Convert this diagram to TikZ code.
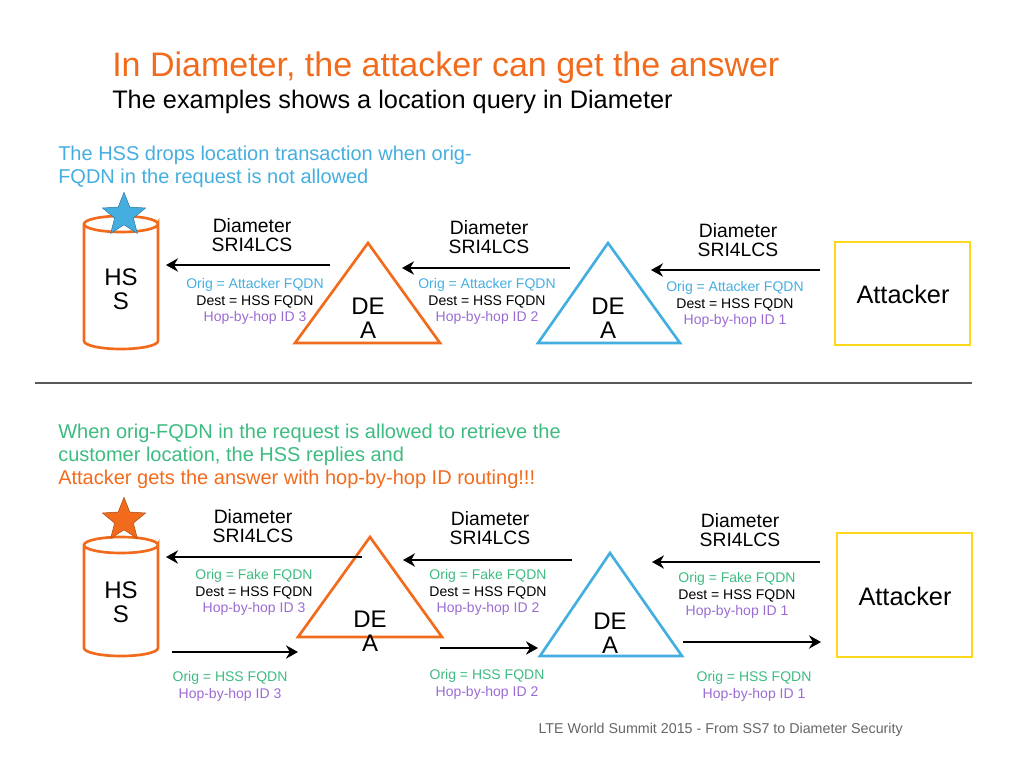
\documentclass[tikz,border=0pt]{standalone}
\usepackage{fontspec}
\setmainfont{Liberation Sans}
\usetikzlibrary{shapes.geometric,arrows.meta}
\definecolor{org}{HTML}{F26B1D}
\definecolor{blu}{HTML}{45AEE0}
\definecolor{grn}{HTML}{3DBB80}
\definecolor{pur}{HTML}{9B6BD3}
\definecolor{yel}{HTML}{FFD71A}
\begin{document}
\begin{tikzpicture}[x=0.75pt,y=-0.75pt,
 fs/.style={font=\fontsize{#1}{#1}\selectfont},
 lbl/.style={align=center,fs=10.5,inner sep=0,text depth=0pt},
 dlab/.style={align=center,fs=14.5,inner sep=0},
 arr/.style={line width=2.2pt,-{Stealth[length=9pt,width=10pt]}},
 tri/.style={line width=2pt,line join=miter},
 big/.style={fs=18,align=center,inner sep=0}]
\useasboundingbox (0,0) rectangle (1024,768);
% titles
\node[anchor=west,org,fs=25.5,inner sep=0] (t1) at (112,68) {In Diameter, the attacker can get the answer};
\node[anchor=west,fs=19,inner sep=0] (t2) at (112,102) {The examples shows a location query in Diameter};
\node[anchor=north west,blu,fs=15,align=left,inner sep=0] (n1) at (58,146) {The HSS drops location transaction when orig-\\[2pt]FQDN in the request is not allowed};
\node[anchor=north west,fs=15,align=left,inner sep=0] (n2) at (58,424) {\textcolor{grn}{When orig-FQDN in the request is allowed to retrieve the}\\[2pt]\textcolor{grn}{customer location, the HSS replies and}\\[2pt]\textcolor{org}{Attacker gets the answer with hop-by-hop ID routing!!!}};
\draw[gray!70!black,line width=0.8pt] (35,383) -- (972,383);
\node[anchor=east,fs=10.7,gray!80!black,inner sep=0] (ft) at (903,730) {LTE World Summit 2015 - From SS7 to Diameter Security};
% ---------- Top row ----------
\draw[org,line width=2pt] (84,224) -- (84,341) arc[start angle=180,end angle=0,x radius=37,y radius=8] -- (158,224) arc[start angle=0,end angle=360,x radius=37,y radius=8];
\node[big] (hss1) at (121,289) {HS\\S};
\node[star,star points=5,star point ratio=2.3,fill=blu,draw=blu!70!black,minimum size=34pt,inner sep=0] (s1) at (124,215) {};
\draw[tri,org] (295,343) -- (368,243) -- (440,343) -- cycle;
\node[big] (d1) at (368,318) {DE\\A};
\draw[tri,blu] (538,343) -- (608,243) -- (680,343) -- cycle;
\node[big] (d2) at (608,318) {DE\\A};
\draw[yel,line width=2pt] (835,242) rectangle (970,345);
\node[fs=19,inner sep=0] (a1) at (903,294) {Attacker};
\coordinate (a1s) at (330,265); \coordinate (a1e) at (166,265);
\coordinate (a2s) at (570,268); \coordinate (a2e) at (402,268);
\coordinate (a3s) at (820,270); \coordinate (a3e) at (651,270);
\draw[arr] (a1s) -- (a1e);
\draw[arr] (a2s) -- (a2e);
\draw[arr] (a3s) -- (a3e);
\node[dlab] (l1) at (252,235) {Diameter\\SRI4LCS};
\node[dlab] (l2) at (489,237) {Diameter\\SRI4LCS};
\node[dlab] (l3) at (738,240) {Diameter\\SRI4LCS};
\node[lbl] (m1) at (255,300) {\textcolor{blu}{Orig = Attacker FQDN}\\[2pt]Dest = HSS FQDN\\[2pt]\textcolor{pur}{Hop-by-hop ID 3}};
\node[lbl] (m2) at (487,300) {\textcolor{blu}{Orig = Attacker FQDN}\\[2pt]Dest = HSS FQDN\\[2pt]\textcolor{pur}{Hop-by-hop ID 2}};
\node[lbl] (m3) at (735,303) {\textcolor{blu}{Orig = Attacker FQDN}\\[2pt]Dest = HSS FQDN\\[2pt]\textcolor{pur}{Hop-by-hop ID 1}};
% ---------- Bottom row ----------
\draw[org,line width=2pt] (84,545) -- (84,648) arc[start angle=180,end angle=0,x radius=37,y radius=8] -- (158,545) arc[start angle=0,end angle=360,x radius=37,y radius=8];
\node[big] (hss2) at (121,602) {HS\\S};
\node[star,star points=5,star point ratio=2.3,fill=org,draw=org!70!black,minimum size=34pt,inner sep=0] (s2) at (124,520) {};
\draw[tri,org] (298,637) -- (370,537) -- (442,637) -- cycle;
\node[big] (d3) at (370,631) {DE\\A};
\draw[tri,blu] (540,656) -- (610,553) -- (682,656) -- cycle;
\node[big] (d4) at (610,633) {DE\\A};
\draw[yel,line width=2pt] (837,533) rectangle (972,657);
\node[fs=19,inner sep=0] (a2) at (905,596) {Attacker};
\coordinate (b1s) at (362,557); \coordinate (b1e) at (166,557);
\coordinate (b2s) at (572,560); \coordinate (b2e) at (403,560);
\coordinate (b3s) at (820,562); \coordinate (b3e) at (652,562);
\draw[arr] (b1s) -- (b1e);
\draw[arr] (b2s) -- (b2e);
\draw[arr] (b3s) -- (b3e);
\coordinate (c1s) at (172,652); \coordinate (c1e) at (298,652);
\coordinate (c2s) at (440,648); \coordinate (c2e) at (538,648);
\coordinate (c3s) at (683,642); \coordinate (c3e) at (821,642);
\draw[arr] (c1s) -- (c1e);
\draw[arr] (c2s) -- (c2e);
\draw[arr] (c3s) -- (c3e);
\node[dlab] (l4) at (253,526) {Diameter\\SRI4LCS};
\node[dlab] (l5) at (490,528) {Diameter\\SRI4LCS};
\node[dlab] (l6) at (740,530) {Diameter\\SRI4LCS};
\node[lbl] (m4) at (254,591) {\textcolor{grn}{Orig = Fake FQDN}\\[2pt]Dest = HSS FQDN\\[2pt]\textcolor{pur}{Hop-by-hop ID 3}};
\node[lbl] (m5) at (488,591) {\textcolor{grn}{Orig = Fake FQDN}\\[2pt]Dest = HSS FQDN\\[2pt]\textcolor{pur}{Hop-by-hop ID 2}};
\node[lbl] (m6) at (737,594) {\textcolor{grn}{Orig = Fake FQDN}\\[2pt]Dest = HSS FQDN\\[2pt]\textcolor{pur}{Hop-by-hop ID 1}};
\node[lbl] (r1) at (230,685) {\textcolor{grn}{Orig = HSS FQDN}\\[2pt]\textcolor{pur}{Hop-by-hop ID 3}};
\node[lbl] (r2) at (487,683) {\textcolor{grn}{Orig = HSS FQDN}\\[2pt]\textcolor{pur}{Hop-by-hop ID 2}};
\node[lbl] (r3) at (754,685) {\textcolor{grn}{Orig = HSS FQDN}\\[2pt]\textcolor{pur}{Hop-by-hop ID 1}};
\end{tikzpicture}
\end{document}
